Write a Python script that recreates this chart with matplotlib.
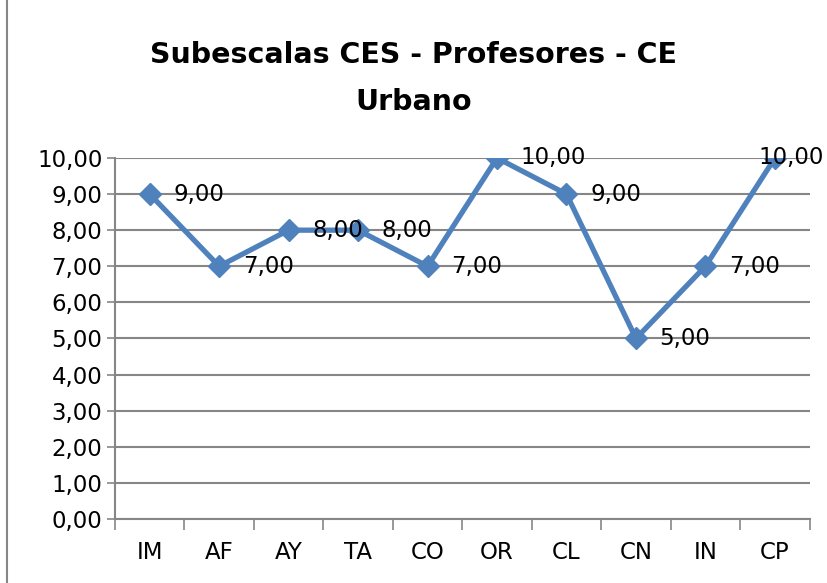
import numpy as np
import matplotlib.pyplot as plt
from matplotlib.patches import Rectangle

# data
categories = ['IM', 'AF', 'AY', 'TA', 'CO', 'OR', 'CL', 'CN', 'IN', 'CP']
values = [9, 7, 8, 8, 7, 10, 9, 5, 7, 10]
yticks = [0, 1, 2, 3, 4, 5, 6, 7, 8, 9, 10]


def fmt(v):
    return ('%.2f' % v).replace('.', ',')


plt.rcParams['font.family'] = ['DejaVu Sans']

fig = plt.figure(figsize=(8.27, 5.83), dpi=100)
ax = fig.add_axes([0.139, 0.110, 0.840, 0.619])

grid_c = '#868686'
blue = '#4F81BD'
fs = 16.5

x = np.arange(len(categories))
ax.plot(x, values, color=blue, lw=3.8, marker='D', ms=11.5, zorder=3)

# data labels to the right of each point, last one pulled in to stay inside
for i, (xi, v) in enumerate(zip(x, values)):
    if i < len(values) - 1:
        ax.annotate(fmt(v), (xi, v), xytext=(17, 0), textcoords='offset points',
                    ha='left', va='center', fontsize=fs, color='black', zorder=4)
    else:
        ax.annotate(fmt(v), (xi, v), xytext=(35, 0), textcoords='offset points',
                    ha='right', va='center', fontsize=fs, color='black', zorder=4)

ax.set_xlim(-0.5, len(categories) - 0.5)
ax.set_ylim(0, 10)
ax.set_yticks(yticks)
ax.set_yticklabels([fmt(v) for v in yticks])
ax.yaxis.grid(True, color=grid_c, lw=1.5)
ax.set_axisbelow(True)

ax.set_xticks(x)
ax.set_xticklabels(categories)
ax.set_xticks(np.arange(-0.5, len(categories)), minor=True)
ax.tick_params(axis='x', which='major', length=0, pad=16, labelsize=fs)
ax.tick_params(axis='x', which='minor', length=8, width=1.2, color=grid_c, direction='out')
ax.tick_params(axis='y', length=6, width=1.2, color=grid_c, labelsize=fs, pad=3)

for s in ['top', 'right']:
    ax.spines[s].set_visible(False)
for s in ['left', 'bottom']:
    ax.spines[s].set_color(grid_c)
    ax.spines[s].set_linewidth(1.5)

fig.text(0.5, 0.905, 'Subescalas CES - Profesores - CE', ha='center', va='center',
         fontsize=20.5, fontweight='bold')
fig.text(0.5, 0.825, 'Urbano', ha='center', va='center', fontsize=20.5, fontweight='bold')

fig.patches.append(Rectangle((0.008, -0.01), 1.2, 1.2, transform=fig.transFigure,
                             fill=False, edgecolor='#868686', lw=1.5))

fig.savefig('out.png', dpi=100)
